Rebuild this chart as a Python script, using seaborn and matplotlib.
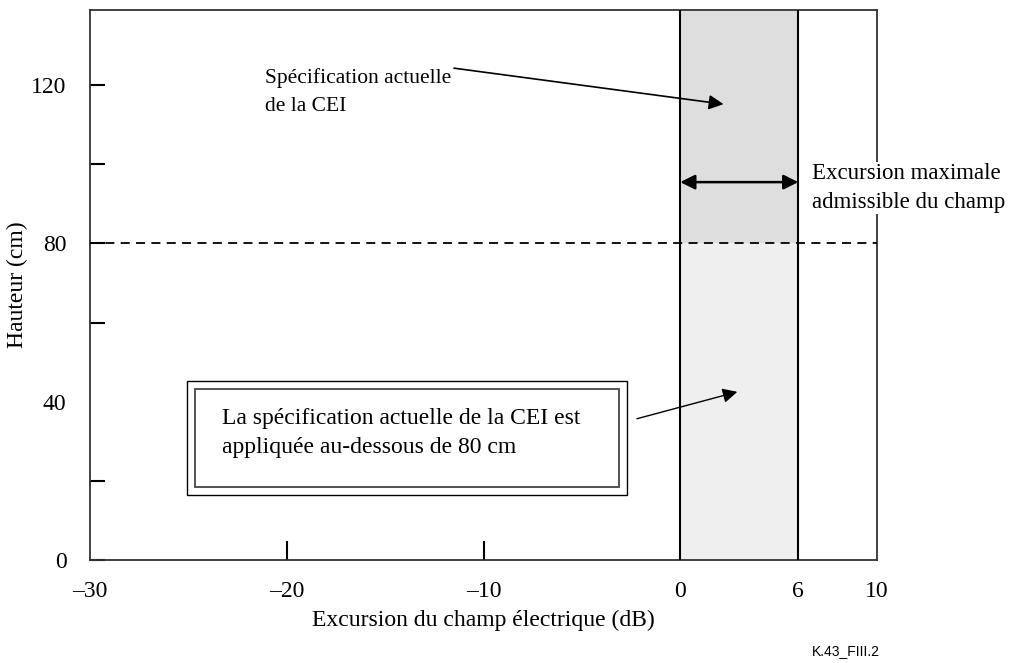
import numpy as np
import pandas as pd
import matplotlib
matplotlib.use("Agg")
import matplotlib.pyplot as plt
import seaborn as sns
from matplotlib.patches import Rectangle

# données du schéma
x_ticks = [-30, -20, -10, 0, 6, 10]
x_tick_labels = ["\u201330", "\u201320", "\u201310", "0", "6", "10"]
y_major = [0, 40, 80, 120]
y_minor = [20, 60, 100]
band_lo, band_hi = 0, 6          # excursion admissible (dB)
ref_height = 80                  # hauteur de référence (cm)
x_range = (-30, 10)
y_range = (0, 139)

sns.set_style("ticks")
plt.rcParams["font.family"] = ["Liberation Serif", "DejaVu Serif"]
plt.rcParams["font.size"] = 17
for k in ("text.color", "axes.labelcolor", "xtick.color", "ytick.color"):
    plt.rcParams[k] = "black"

fig = plt.figure(figsize=(10.18, 6.63), dpi=100)
ax = fig.add_axes([90 / 1018, 103 / 663, 787 / 1018, 550 / 663])

# bandes grisées
ax.fill_betweenx([ref_height, y_range[1]], band_lo, band_hi, color="#dedede", lw=0, zorder=1)
ax.fill_betweenx([y_range[0], ref_height], band_lo, band_hi, color="#efefef", lw=0, zorder=1)

# lignes verticales et ligne pointillée
for xv in (band_lo, band_hi):
    df_v = pd.DataFrame({"x": [xv, xv], "y": list(y_range)})
    sns.lineplot(data=df_v, x="x", y="y", color="black", lw=1.5, ax=ax,
                 estimator=None, sort=False, zorder=3)
df_h = pd.DataFrame({"x": list(x_range), "y": [ref_height, ref_height]})
sns.lineplot(data=df_h, x="x", y="y", color="black", lw=1.3, ax=ax,
             linestyle=(0, (5, 3.5)), zorder=3)

ax.set_xlim(*x_range)
ax.set_ylim(*y_range)

ax.set_xticks(x_ticks)
ax.set_xticklabels(x_tick_labels)
ax.set_yticks(y_major)
ax.set_yticks(y_minor, minor=True)
ax.tick_params(axis="y", which="both", direction="in", length=11, width=1.5, pad=17)
ax.tick_params(axis="x", which="both", direction="in", length=14, width=1.5, pad=15)
# pas de tick visible aux bords / sur les lignes verticales
for t in ax.xaxis.get_major_ticks():
    if t.get_loc() in (-30, 0, 6, 10):
        t.tick1line.set_visible(False)
for t in ax.yaxis.get_major_ticks():
    if t.get_loc() == 0:
        t.tick1line.set_visible(False)

for sp in ax.spines.values():
    sp.set_linewidth(1.3)
    sp.set_color("#333333")

ax.set_xlabel("Excursion du champ électrique (dB)")
ax.xaxis.set_label_coords(0.5, -0.109)
ax.xaxis.label.set_va("center")
ax.set_ylabel("Hauteur (cm)")
ax.yaxis.set_label_coords(-0.092, 0.5)
ax.yaxis.label.set_va("center")

# annotations
ax.text(-21.1, 118.2, "Spécification actuelle\nde la CEI", ha="left", va="center",
        fontsize=15.5, linespacing=1.62, zorder=5)
ax.annotate("", xy=(2.2, 115.2), xytext=(-11.5, 124.3),
            arrowprops=dict(arrowstyle="-|>", mutation_scale=22, lw=1.2,
                            color="black", shrinkA=0, shrinkB=0), zorder=5)

ax.annotate("", xy=(band_hi, 95.5), xytext=(band_lo, 95.5),
            arrowprops=dict(arrowstyle="<|-|>", mutation_scale=22, lw=1.8,
                            color="black", shrinkA=0, shrinkB=0), zorder=5)
ax.text(6.7, 94.0, "Excursion maximale\nadmissible du champ", ha="left", va="center",
        fontsize=16.5, linespacing=1.5, zorder=6, clip_on=False,
        bbox=dict(facecolor="white", edgecolor="none", pad=1))

# cadre double
ax.add_patch(Rectangle((-25.07, 16.5), 22.36, 28.8, fill=False, lw=1.0,
                       edgecolor="black", zorder=4))
ax.add_patch(Rectangle((-24.66, 18.5), 21.55, 24.8, fill=False, lw=1.3,
                       edgecolor="#444444", zorder=4))
ax.text(-23.3, 32.0, "La spécification actuelle de la CEI est\nappliquée au-dessous de 80 cm",
        ha="left", va="center", fontsize=17, linespacing=1.5, zorder=5)
ax.annotate("", xy=(2.9, 42.5), xytext=(-2.2, 35.7),
            arrowprops=dict(arrowstyle="-|>", mutation_scale=22, lw=1.0,
                            color="black", shrinkA=0, shrinkB=0), zorder=5)

fig.text(880 / 1018, 1 - 651 / 663, "K.43_FIII.2", ha="right", va="center",
         fontsize=10, family=["Liberation Sans", "DejaVu Sans"])

fig.savefig("out.png", dpi=100, facecolor="white")
